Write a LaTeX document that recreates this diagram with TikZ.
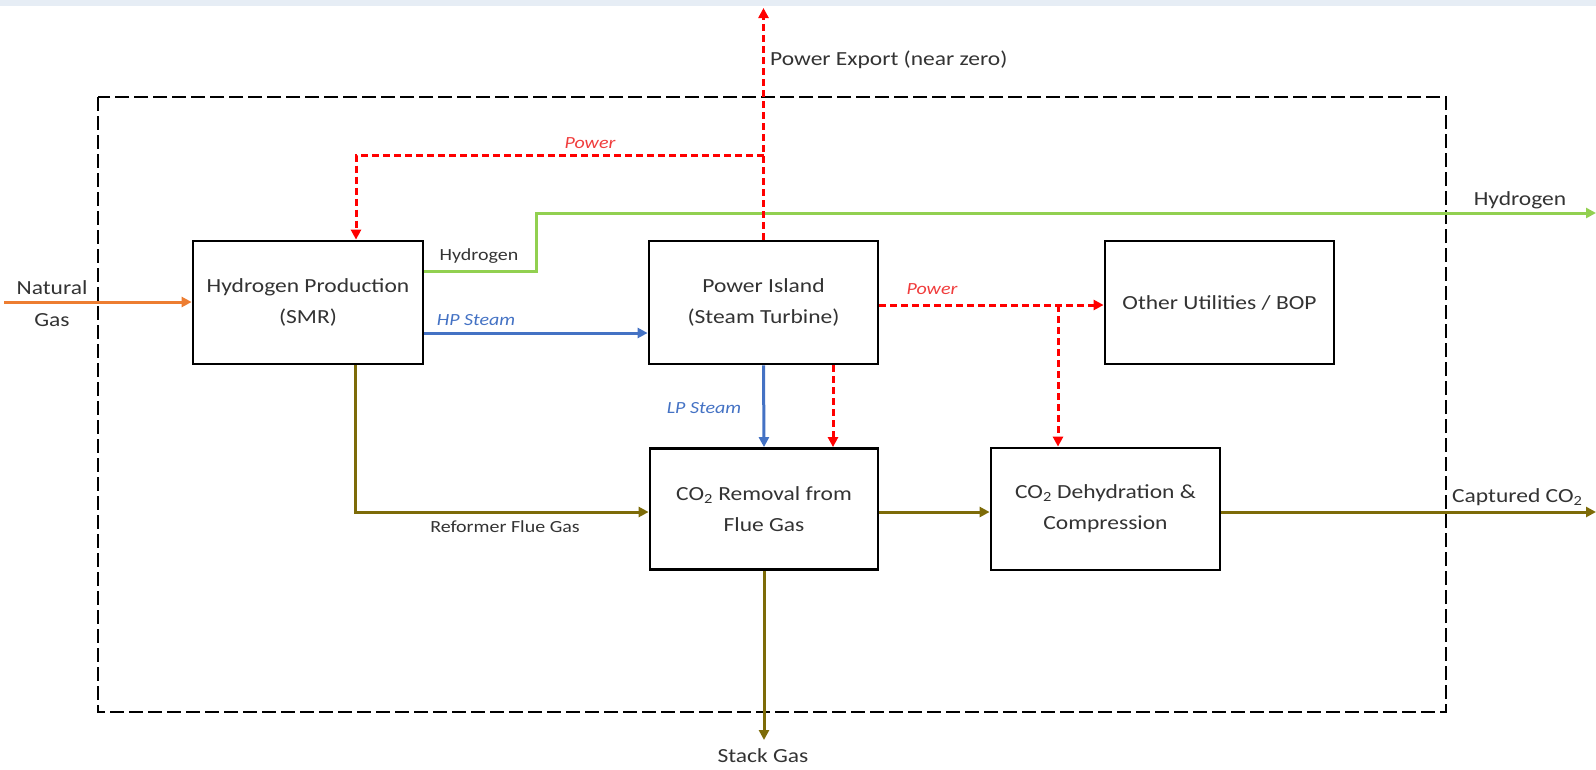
\documentclass[tikz,border=0pt]{standalone}
\usepackage{fontspec}
\setmainfont{Carlito}[FakeStretch=1.175]
\usetikzlibrary{arrows.meta}
\definecolor{txt}{HTML}{333333}
\definecolor{ngorange}{HTML}{ED7D31}
\definecolor{stblue}{HTML}{4472C4}
\definecolor{hgreen}{HTML}{92D050}
\definecolor{flue}{HTML}{7D6B08}
\definecolor{pwred}{HTML}{FF0000}
\definecolor{lblred}{HTML}{F03C3C}
\definecolor{strip}{HTML}{E6EDF5}
\tikzset{
  unit/.style={draw=black, line width=2.8pt, fill=white, minimum width=229pt, minimum height=122pt,
    align=center, text=txt, font=\fontsize{20}{31}\selectfont, inner sep=0pt},
  flow/.style={line width=3pt, -{Triangle[length=10pt,width=10pt]}},
  pwr/.style={draw=pwred, line width=3pt, dash pattern=on 7pt off 4pt, -{Triangle[length=10pt,width=10pt]}},
  biglbl/.style={text=txt, font=\fontsize{20}{32}\selectfont, align=center, inner sep=0pt},
  smalllbl/.style={text=txt, font=\fontsize{17}{20}\selectfont, inner sep=0pt},
  steamlbl/.style={text=stblue, font=\fontsize{17}{20}\selectfont\itshape, inner sep=0pt},
  powerlbl/.style={text=lblred, font=\fontsize{17}{20}\selectfont\itshape, inner sep=0pt},
  boundary/.style={draw=black, line width=1.8pt, dash pattern=on 14pt off 5pt}
}
\begin{document}
\begin{tikzpicture}[x=1pt,y=-1pt]
\useasboundingbox (0,0) rectangle (1596,769);
\fill[strip] (0,0) rectangle (1596,6);
\draw[boundary] (98,97) rectangle (1446,712);

% units
\node[unit, minimum width=230pt, minimum height=123pt] (smr) at (308,302.5) {Hydrogen Production\\(SMR)};
\node[unit, minimum height=123pt] (pi) at (763.5,302.5) {Power Island\\(Steam Turbine)};
\node[unit, minimum height=123pt] (ou) at (1219.5,302.5) {Other Utilities / BOP};
\node[unit, minimum width=228pt, minimum height=121pt] (cr) at (764,509) {CO\textsubscript{2} Removal from\\Flue Gas};
\node[unit] (dh) at (1105.5,509) {CO\textsubscript{2} Dehydration \&\\Compression};

% helper coordinates
\coordinate (ngs) at (4,302);
\coordinate (hpy) at (0,333);
\coordinate (h2y) at (0,271);
\coordinate (h2turn) at (536,213);
\coordinate (h2end) at (1596,213);
\coordinate (pwtop) at (0,8);
\coordinate (pwcorner) at (356,155);
\coordinate (pwy) at (0,305);
\coordinate (br) at (1058,305);
\coordinate (pcr) at (833,0);
\coordinate (fg) at (355,512);
\coordinate (capend) at (1596,512);
\coordinate (stackend) at (0,740);

% flows
\draw[flow, ngorange] (ngs) -- (ngs -| smr.west);
\draw[flow, stblue] (smr.east |- hpy) -- (pi.west |- hpy);
\draw[flow, hgreen] (smr.east |- h2y) -| (h2turn) -- (h2end);
\draw[flow, stblue] (pi.south) -- (cr.north);
\draw[flow, flue] (smr.south -| fg) -- (fg) -- (cr.west |- fg);
\draw[flow, flue] (cr.east |- fg) -- (dh.west |- fg);
\draw[flow, flue] (dh.east |- fg) -- (capend);
\draw[flow, flue] (cr.south) -- (cr.south |- stackend);

% power
\draw[pwr] (pi.north) -- (pi.north |- pwtop);
\draw[pwr] (pi.north |- pwcorner) -- (pwcorner) -- (pwcorner |- smr.north);
\draw[pwr] (pi.east |- pwy) -- (ou.west |- pwy);
\draw[pwr] (br) -- (br |- dh.north);
\draw[pwr] (pi.south -| pcr) -- (cr.north -| pcr);

% labels
\node[biglbl] (lng) at (52,304) {Natural\\Gas};
\node[smalllbl] (lh2a) at (479,256) {Hydrogen};
\node[steamlbl] (lhp) at (476,320) {HP Steam};
\node[powerlbl] (lpw1) at (590,143) {Power};
\node[biglbl, anchor=west] (lpe) at (770,60) {Power Export (near zero)};
\node[biglbl] (lh2b) at (1520,200) {Hydrogen};
\node[powerlbl] (lpw2) at (932,289) {Power};
\node[steamlbl] (llp) at (704,408) {LP Steam};
\node[smalllbl] (lrf) at (505,527) {Reformer Flue Gas};
\node[biglbl, anchor=west] (lcap) at (1452,497) {Captured CO\textsubscript{2}};
\node[biglbl] (lst) at (763,756) {Stack Gas};
\end{tikzpicture}
\end{document}
